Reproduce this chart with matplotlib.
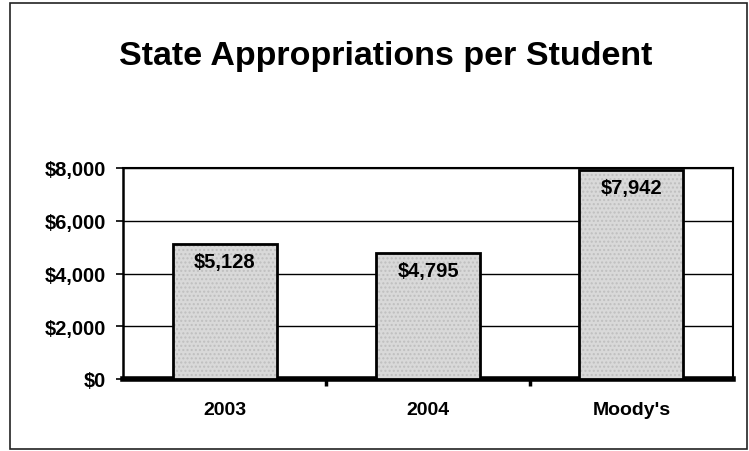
import matplotlib.pyplot as plt
from matplotlib.patches import Rectangle

categories = ["2003", "2004", "Moody's"]
values = [5128, 4795, 7942]
value_labels = ["$5,128", "$4,795", "$7,942"]
y_ticks = [0, 2000, 4000, 6000, 8000]
y_tick_labels = ["$0", "$2,000", "$4,000", "$6,000", "$8,000"]

plt.rcParams["font.family"] = ["Liberation Sans", "DejaVu Sans"]
plt.rcParams["font.weight"] = "bold"

fig = plt.figure(figsize=(7.49, 4.52), dpi=100)
ax = fig.add_axes([123 / 749, 1 - 380 / 452, 610 / 749, 211 / 452])

# outer frame of the slide
fig.patches.append(
    Rectangle((10 / 749, 2 / 452), 737 / 749, 446 / 452, transform=fig.transFigure,
              fill=False, edgecolor="#222222", linewidth=1.2)
)

x = list(range(len(categories)))
bars = ax.bar(x, values, width=0.51, color="#d9d9d9", edgecolor="black",
              linewidth=2.0, hatch="....", zorder=3)
for b in bars:
    b._hatch_color = (0.75, 0.75, 0.75, 1.0)

for xi, v, lab in zip(x, values, value_labels):
    ax.text(xi, v - 320, lab, ha="center", va="top", fontsize=14.5,
            fontweight="bold", zorder=4)

ax.set_xlim(-0.5, 2.5)
ax.set_ylim(0, 8000)
ax.set_yticks(y_ticks)
ax.set_yticklabels(y_tick_labels, fontsize=14.5, fontweight="bold")
ax.set_xticks(x)
ax.set_xticklabels(categories, fontsize=14, fontweight="bold")
ax.tick_params(axis="x", length=0, pad=16)
ax.set_xticks([0.5, 1.5], minor=True)
ax.tick_params(axis="x", which="minor", length=5, width=2.5, direction="out")
ax.tick_params(axis="y", length=5, width=1.2, direction="out", pad=7)

ax.yaxis.grid(True, color="black", linewidth=1.0, zorder=0)
ax.spines["bottom"].set_linewidth(4)
ax.spines["left"].set_linewidth(1.8)
ax.spines["top"].set_linewidth(1.5)
ax.spines["right"].set_linewidth(1.5)

fig.text(386 / 749, 1 - 57 / 452, "State Appropriations per Student",
         ha="center", va="center", fontsize=24.5, fontweight="bold")

fig.savefig("out.png", dpi=100)
